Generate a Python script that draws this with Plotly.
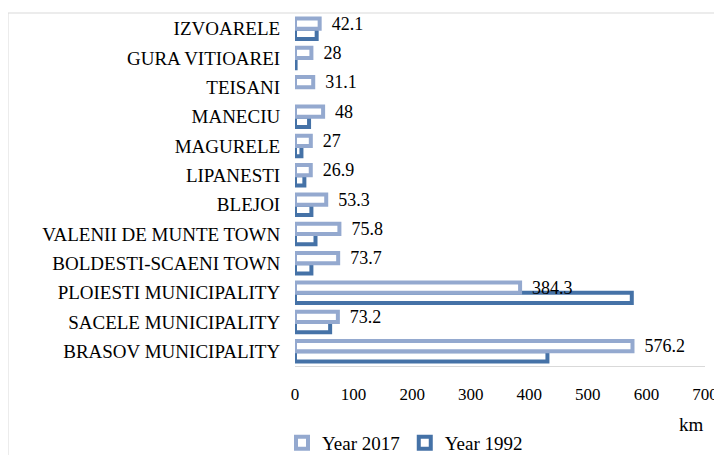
import plotly.graph_objects as go

# categories listed bottom to top
towns = [
    "BRASOV MUNICIPALITY",
    "SACELE MUNICIPALITY",
    "PLOIESTI MUNICIPALITY",
    "BOLDESTI-SCAENI TOWN",
    "VALENII DE MUNTE TOWN",
    "BLEJOI",
    "LIPANESTI",
    "MAGURELE",
    "MANECIU",
    "TEISANI",
    "GURA VITIOAREI",
    "IZVOARELE",
]
year_2017 = [576.2, 73.2, 384.3, 73.7, 75.8, 53.3, 26.9, 27, 48, 31.1, 28, 42.1]
year_1992 = [431, 60, 575, 28, 35, 28, 16, 11, 24, None, 1, 37]

LIGHT = "#94a9cf"
DARK = "#4572a7"
FONT = "Liberation Serif"

W, H = 722, 455
OFF = 8  # page body margin shifts the figure by 8px
L, R, T, B = 295 - OFF, W - (705 - OFF), 14 - OFF, H - (366 - OFF)

fig = go.Figure()
fig.add_trace(go.Bar(
    y=towns, x=year_1992, orientation="h", name="Year 1992",
    marker=dict(color="white", line=dict(color=DARK, width=4)),
))
fig.add_trace(go.Bar(
    y=towns, x=year_2017, orientation="h", name="Year 2017",
    marker=dict(color="white", line=dict(color=LIGHT, width=4)),
    text=[f"  {v:g}" for v in year_2017], textposition="outside",
    constraintext="none",
    textfont=dict(family=FONT, size=18, color="black"), cliponaxis=False,
))

fig.update_layout(
    width=W, height=H,
    margin=dict(l=L, r=R, t=T, b=B, autoexpand=False),
    paper_bgcolor="white", plot_bgcolor="white",
    barmode="group", bargap=0.3, bargroupgap=0,
    font=dict(family=FONT, size=16, color="black"),
    legend=dict(
        orientation="h", traceorder="reversed",
        xref="container", yref="container",
        x=(282 - OFF) / W, y=(H - (443 - OFF)) / H, xanchor="left", yanchor="middle",
        font=dict(family=FONT, size=19), itemwidth=30,
        tracegroupgap=0,
    ),
    showlegend=True,
)
fig.update_xaxes(
    range=[0, 700], dtick=100, showgrid=False, zeroline=False,
    showline=True, linecolor="#d9d9d9", linewidth=1, automargin=False,
    ticks="outside", ticklen=13, tickcolor="rgba(0,0,0,0)",
    tickfont=dict(family=FONT, size=17),
)
fig.update_yaxes(
    showgrid=False, zeroline=False, showline=False, automargin=False,
    ticks="outside", ticklen=10, tickcolor="rgba(0,0,0,0)",
    tickfont=dict(family=FONT, size=19),
)
px_to_x = lambda px: (px - OFF - L) / (W - L - R)
px_to_y = lambda py: ((H - B) - (py - OFF)) / (H - B - T)
fig.add_annotation(
    text="km", xref="paper", yref="paper",
    x=px_to_x(691), y=px_to_y(425), xanchor="center", yanchor="middle",
    showarrow=False, font=dict(family=FONT, size=19),
)
# outer chart border (top and left visible)
fig.add_shape(type="line", xref="paper", yref="paper",
              x0=px_to_x(8), x1=px_to_x(740), y0=px_to_y(13), y1=px_to_y(13),
              line=dict(color="#d9d9d9", width=1))
fig.add_shape(type="line", xref="paper", yref="paper",
              x0=px_to_x(8), x1=px_to_x(8), y0=px_to_y(13), y1=px_to_y(480),
              line=dict(color="#d9d9d9", width=1))

fig.write_html("out.html")
